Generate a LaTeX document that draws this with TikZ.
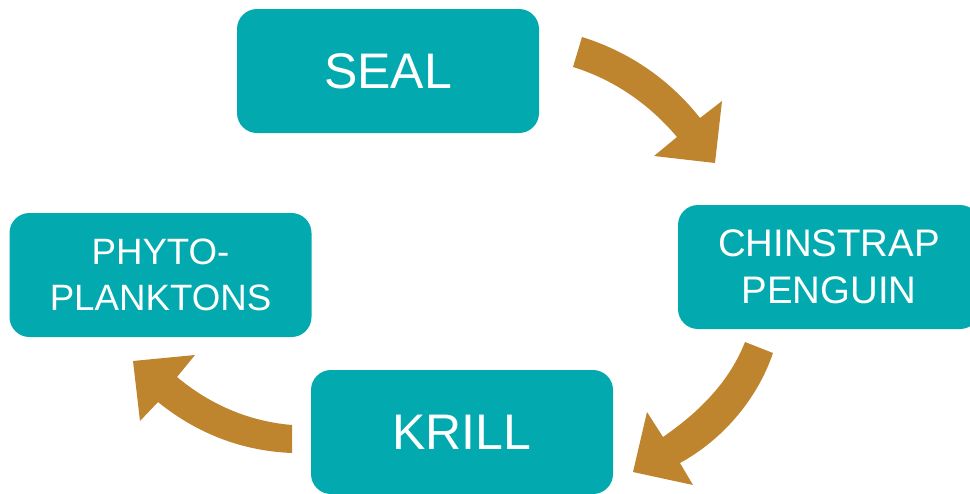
\documentclass[tikz,border=0pt]{standalone}
\usepackage{fontspec}
\setmainfont{Liberation Sans}
\definecolor{teal}{HTML}{02AAB0}
\definecolor{gold}{HTML}{BE852E}
\begin{document}
\begin{tikzpicture}[x=0.75pt,y=-0.75pt,
  box/.style={fill=teal,rounded corners=15pt,text=white,align=center,
    minimum width=226.5pt,minimum height=93pt,inner sep=0pt},
  big/.style={font=\fontsize{37.5pt}{45pt}\selectfont},
  small/.style={font=\fontsize{27.5pt}{35pt}\selectfont},
  smallb/.style={font=\fontsize{28.8pt}{35pt}\selectfont},
  arr/.style={fill=gold,draw=none}]
\useasboundingbox (0,0) rectangle (970,493);
\node[box,big] (seal) at (388,71) {SEAL};
\node[box,smallb] (peng) at (829,267) {CHINSTRAP\\PENGUIN};
\node[box,big] (krill) at (462,432) {KRILL};
\node[box,small] (phyto) at (160.5,275) {PHYTO-\\PLANKTONS};
% seal -> penguin
\fill[arr] (582,37) .. controls (630,52) and (670,80) .. (700,118) -- (722,101) -- (715,163) -- (654,156) -- (677,137) .. controls (650,105) and (615,80) .. (573,67) -- cycle;
% penguin -> krill
\fill[arr] (745,342) .. controls (730,380) and (702,410) .. (663,437) -- (647,412) -- (633,472) -- (693,485) -- (680,463) .. controls (722,440) and (757,400) .. (773,353) -- cycle;
% krill -> phyto
\fill[arr] (292,425) .. controls (245,421) and (207,402) .. (177,377) -- (195,355) -- (133,361) -- (140,421) -- (158,402) .. controls (195,432) and (240,451) .. (292,453) -- cycle;
\end{tikzpicture}
\end{document}
